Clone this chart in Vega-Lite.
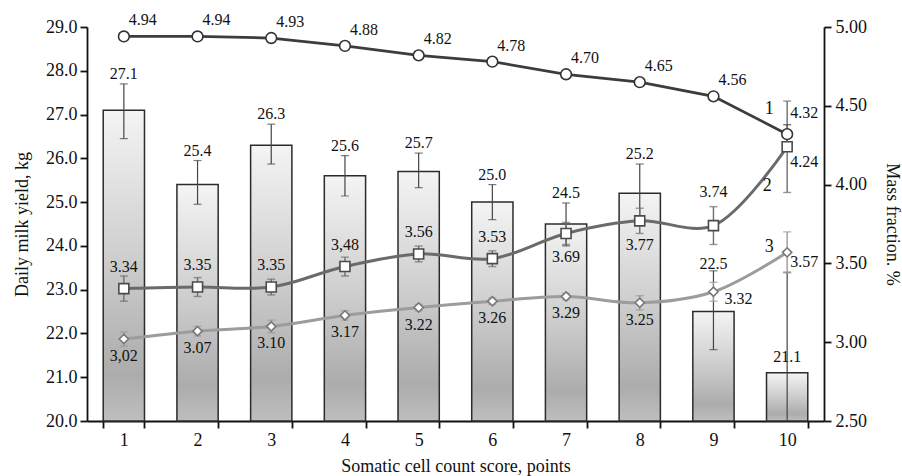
{
  "$schema": "https://vega.github.io/schema/vega-lite/v6.json",
  "width": 737,
  "height": 394,
  "autosize": {"type": "none"},
  "padding": {"left": 87, "top": 27, "right": 78, "bottom": 55},
  "background": "white",
  "datasets": {
    "milk": [
      {"score": 1, "yield": 27.1, "lo": 26.45, "hi": 27.7},
      {"score": 2, "yield": 25.4, "lo": 24.95, "hi": 25.95},
      {"score": 3, "yield": 26.3, "lo": 25.87, "hi": 26.78},
      {"score": 4, "yield": 25.6, "lo": 25.14, "hi": 26.06},
      {"score": 5, "yield": 25.7, "lo": 25.33, "hi": 26.12},
      {"score": 6, "yield": 25.0, "lo": 24.6, "hi": 25.4},
      {"score": 7, "yield": 24.5, "lo": 24.0, "hi": 24.98},
      {"score": 8, "yield": 25.2, "lo": 24.6, "hi": 25.87},
      {"score": 9, "yield": 22.5, "lo": 21.63, "hi": 23.43},
      {"score": 10, "yield": 21.1, "lo": 18.8, "hi": 23.4}
    ],
    "frac": [
      {"score": 1, "series": "1", "value": 4.94, "lo": 4.92, "hi": 4.96, "label": "4.94"},
      {"score": 2, "series": "1", "value": 4.94, "lo": 4.92, "hi": 4.96, "label": "4.94"},
      {"score": 3, "series": "1", "value": 4.93, "lo": 4.91, "hi": 4.95, "label": "4.93"},
      {"score": 4, "series": "1", "value": 4.88, "lo": 4.86, "hi": 4.90, "label": "4.88"},
      {"score": 5, "series": "1", "value": 4.82, "lo": 4.80, "hi": 4.84, "label": "4.82"},
      {"score": 6, "series": "1", "value": 4.78, "lo": 4.76, "hi": 4.80, "label": "4.78"},
      {"score": 7, "series": "1", "value": 4.70, "lo": 4.68, "hi": 4.72, "label": "4.70"},
      {"score": 8, "series": "1", "value": 4.65, "lo": 4.63, "hi": 4.67, "label": "4.65"},
      {"score": 9, "series": "1", "value": 4.56, "lo": 4.54, "hi": 4.58, "label": "4.56"},
      {"score": 10, "series": "1", "value": 4.32, "lo": 4.26, "hi": 4.38, "label": "4.32"},
      {"score": 1, "series": "2", "value": 3.34, "lo": 3.26, "hi": 3.42, "label": "3.34"},
      {"score": 2, "series": "2", "value": 3.35, "lo": 3.29, "hi": 3.41, "label": "3.35"},
      {"score": 3, "series": "2", "value": 3.35, "lo": 3.30, "hi": 3.40, "label": "3.35"},
      {"score": 4, "series": "2", "value": 3.48, "lo": 3.42, "hi": 3.54, "label": "3,48"},
      {"score": 5, "series": "2", "value": 3.56, "lo": 3.51, "hi": 3.61, "label": "3.56"},
      {"score": 6, "series": "2", "value": 3.53, "lo": 3.48, "hi": 3.58, "label": "3.53"},
      {"score": 7, "series": "2", "value": 3.69, "lo": 3.62, "hi": 3.76, "label": "3.69"},
      {"score": 8, "series": "2", "value": 3.77, "lo": 3.69, "hi": 3.85, "label": "3.77"},
      {"score": 9, "series": "2", "value": 3.74, "lo": 3.62, "hi": 3.86, "label": "3.74"},
      {"score": 10, "series": "2", "value": 4.24, "lo": 3.95, "hi": 4.53, "label": "4.24"},
      {"score": 1, "series": "3", "value": 3.02, "lo": 2.975, "hi": 3.065, "label": "3,02"},
      {"score": 2, "series": "3", "value": 3.07, "lo": 3.04, "hi": 3.10, "label": "3.07"},
      {"score": 3, "series": "3", "value": 3.10, "lo": 3.06, "hi": 3.14, "label": "3.10"},
      {"score": 4, "series": "3", "value": 3.17, "lo": 3.14, "hi": 3.20, "label": "3.17"},
      {"score": 5, "series": "3", "value": 3.22, "lo": 3.20, "hi": 3.24, "label": "3.22"},
      {"score": 6, "series": "3", "value": 3.26, "lo": 3.24, "hi": 3.28, "label": "3.26"},
      {"score": 7, "series": "3", "value": 3.29, "lo": 3.27, "hi": 3.31, "label": "3.29"},
      {"score": 8, "series": "3", "value": 3.25, "lo": 3.205, "hi": 3.295, "label": "3.25"},
      {"score": 9, "series": "3", "value": 3.32, "lo": 3.26, "hi": 3.38, "label": "3.32"},
      {"score": 10, "series": "3", "value": 3.57, "lo": 3.44, "hi": 3.70, "label": "3.57"}
    ]
  },
  "config": {
    "font": "Liberation Serif",
    "view": {"stroke": null},
    "axis": {
      "labelFont": "Liberation Serif",
      "titleFont": "Liberation Serif",
      "domainColor": "#111",
      "domainWidth": 1.8,
      "tickColor": "#111",
      "tickWidth": 1.8,
      "tickSize": 7,
      "labelFontSize": 18,
      "labelColor": "#111",
      "titleFontSize": 18,
      "titleFontWeight": "normal",
      "titleColor": "#111",
      "grid": false
    },
    "text": {"font": "Liberation Serif", "fontSize": 16, "color": "#111"}
  },
  "encoding": {
    "x": {
      "field": "score",
      "type": "ordinal",
      "scale": {"paddingInner": 0.44, "paddingOuter": 0.22},
      "axis": {
        "title": "Somatic cell count score, points",
        "labelAngle": 0,
        "tickBand": "extent",
        "labelPadding": 3,
        "titlePadding": 8
      }
    }
  },
  "layer": [
    {
      "data": {"name": "milk"},
      "layer": [
        {
          "mark": {
            "type": "bar",
            "stroke": "#2b2b2b",
            "strokeWidth": 1.5,
            "fill": {
              "gradient": "linear",
              "x1": 0, "y1": 0, "x2": 0, "y2": 1,
              "stops": [
                {"offset": 0, "color": "#f4f4f4"},
                {"offset": 0.5, "color": "#cccccc"},
                {"offset": 0.85, "color": "#acacac"},
                {"offset": 1, "color": "#bebebe"}
              ]
            }
          },
          "encoding": {
            "y": {
              "field": "yield",
              "type": "quantitative",
              "title": "Daily milk yield, kg",
              "scale": {"domain": [20, 29], "zero": false, "nice": false},
              "axis": {"orient": "left", "values": [20, 21, 22, 23, 24, 25, 26, 27, 28, 29], "format": ".1f", "labelPadding": 3, "titlePadding": 14}
            },
            "y2": {"datum": 20}
          }
        },
        {
          "mark": {"type": "rule", "clip": true, "color": "#444", "strokeWidth": 1.2},
          "encoding": {
            "y": {"field": "lo", "type": "quantitative", "title": "Daily milk yield, kg"},
            "y2": {"field": "hi"}
          }
        },
        {
          "mark": {"type": "tick", "clip": true, "color": "#444", "size": 8, "thickness": 1.2},
          "encoding": {"y": {"field": "hi", "type": "quantitative", "title": "Daily milk yield, kg"}}
        },
        {
          "mark": {"type": "tick", "clip": true, "color": "#444", "size": 8, "thickness": 1.2},
          "encoding": {"y": {"field": "lo", "type": "quantitative", "title": "Daily milk yield, kg"}}
        },
        {
          "transform": [{"filter": "datum.score <= 8"}],
          "mark": {"type": "text", "baseline": "alphabetic", "dy": -5},
          "encoding": {
            "y": {"field": "hi", "type": "quantitative", "title": "Daily milk yield, kg"},
            "text": {"field": "yield", "type": "quantitative", "format": ".1f"}
          }
        },
        {
          "transform": [{"filter": "datum.score == 9"}],
          "mark": {"type": "text", "baseline": "alphabetic", "dy": -2},
          "encoding": {
            "y": {"field": "hi", "type": "quantitative", "title": "Daily milk yield, kg"},
            "text": {"field": "yield", "type": "quantitative", "format": ".1f"}
          }
        },
        {
          "transform": [{"filter": "datum.score == 10"}],
          "mark": {"type": "text", "baseline": "alphabetic", "dy": -11},
          "encoding": {
            "y": {"field": "yield", "type": "quantitative", "title": "Daily milk yield, kg"},
            "text": {"field": "yield", "type": "quantitative", "format": ".1f"}
          }
        }
      ]
    },
    {
      "data": {"name": "frac"},
      "encoding": {
        "y": {
          "field": "value",
          "type": "quantitative",
          "title": "Mass fraction. %",
          "scale": {"domain": [2.5, 5], "zero": false, "nice": false},
          "axis": {"orient": "right", "values": [2.5, 3, 3.5, 4, 4.5, 5], "format": ".2f", "labelPadding": 4, "titlePadding": 16}
        }
      },
      "layer": [
        {
          "transform": [{"filter": "datum.series === '1'"}],
          "mark": {"type": "line", "color": "#3c3c3c", "strokeWidth": 2.8}
        },
        {
          "transform": [{"filter": "datum.series === '2'"}],
          "mark": {"type": "line", "color": "#6a6a6a", "strokeWidth": 3, "interpolate": "catmull-rom"}
        },
        {
          "transform": [{"filter": "datum.series === '3'"}],
          "mark": {"type": "line", "color": "#9c9c9c", "strokeWidth": 3, "interpolate": "catmull-rom"}
        },
        {
          "mark": {"type": "rule", "strokeWidth": 1.4},
          "encoding": {
            "y": {"field": "lo", "type": "quantitative", "title": "Mass fraction. %"},
            "y2": {"field": "hi"},
            "color": {"field": "series", "type": "nominal", "scale": {"domain": ["1", "2", "3"], "range": ["#404040", "#6e6e6e", "#9a9a9a"]}, "legend": null}
          }
        },
        {
          "mark": {"type": "tick", "size": 8, "thickness": 1.4},
          "encoding": {
            "y": {"field": "hi", "type": "quantitative", "title": "Mass fraction. %"},
            "color": {"field": "series", "type": "nominal", "legend": null}
          }
        },
        {
          "mark": {"type": "tick", "size": 8, "thickness": 1.4},
          "encoding": {
            "y": {"field": "lo", "type": "quantitative", "title": "Mass fraction. %"},
            "color": {"field": "series", "type": "nominal", "legend": null}
          }
        },
        {
          "mark": {"type": "point", "filled": true, "fill": "white", "strokeWidth": 1.6, "opacity": 1},
          "encoding": {
            "shape": {"field": "series", "type": "nominal", "scale": {"domain": ["1", "2", "3"], "range": ["circle", "square", "diamond"]}, "legend": null},
            "stroke": {"field": "series", "type": "nominal", "scale": {"domain": ["1", "2", "3"], "range": ["#333333", "#4a4a4a", "#777777"]}, "legend": null},
            "size": {"field": "series", "type": "ordinal", "scale": {"domain": ["1", "2", "3"], "range": [115, 85, 110]}, "legend": null}
          }
        },
        {
          "transform": [{"filter": "datum.series === '1' && datum.score < 10"}],
          "mark": {"type": "text", "align": "left", "baseline": "alphabetic", "dx": 5, "dy": -11},
          "encoding": {"text": {"field": "label"}}
        },
        {
          "transform": [{"filter": "datum.series === '1' && datum.score == 10"}],
          "mark": {"type": "text", "align": "left", "baseline": "alphabetic", "dx": 3, "dy": -16},
          "encoding": {"text": {"field": "label"}}
        },
        {
          "transform": [{"filter": "datum.series === '2' && datum.score <= 6"}],
          "mark": {"type": "text", "align": "center", "baseline": "alphabetic", "dy": -17},
          "encoding": {"text": {"field": "label"}}
        },
        {
          "transform": [{"filter": "datum.series === '2' && datum.score == 9"}],
          "mark": {"type": "text", "align": "center", "baseline": "alphabetic", "dy": -29},
          "encoding": {"text": {"field": "label"}}
        },
        {
          "transform": [{"filter": "datum.series === '2' && (datum.score == 7 || datum.score == 8)"}],
          "mark": {"type": "text", "align": "center", "baseline": "top", "dy": 16},
          "encoding": {"text": {"field": "label"}}
        },
        {
          "transform": [{"filter": "datum.series === '2' && datum.score == 10"}],
          "mark": {"type": "text", "align": "left", "baseline": "top", "dx": 3, "dy": 7},
          "encoding": {"text": {"field": "label"}}
        },
        {
          "transform": [{"filter": "datum.series === '3' && datum.score <= 8"}],
          "mark": {"type": "text", "align": "center", "baseline": "top", "dy": 9},
          "encoding": {"text": {"field": "label"}}
        },
        {
          "transform": [{"filter": "datum.series === '3' && datum.score == 9"}],
          "mark": {"type": "text", "align": "left", "baseline": "top", "dx": 11, "dy": -1},
          "encoding": {"text": {"field": "label"}}
        },
        {
          "transform": [{"filter": "datum.series === '3' && datum.score == 10"}],
          "mark": {"type": "text", "align": "left", "baseline": "top", "dx": 3, "dy": 2},
          "encoding": {"text": {"field": "label"}}
        },
        {
          "transform": [{"filter": "datum.series === '1' && datum.score == 10"}],
          "mark": {"type": "text", "align": "center", "baseline": "middle", "fontSize": 18, "dx": -18, "dy": -25},
          "encoding": {"text": {"field": "series"}}
        },
        {
          "transform": [{"filter": "datum.series === '2' && datum.score == 10"}],
          "mark": {"type": "text", "align": "center", "baseline": "middle", "fontSize": 18, "dx": -20, "dy": 39},
          "encoding": {"text": {"field": "series"}}
        },
        {
          "transform": [{"filter": "datum.series === '3' && datum.score == 10"}],
          "mark": {"type": "text", "align": "center", "baseline": "middle", "fontSize": 18, "dx": -18, "dy": -5},
          "encoding": {"text": {"field": "series"}}
        }
      ]
    }
  ],
  "resolve": {"scale": {"y": "independent"}}
}
